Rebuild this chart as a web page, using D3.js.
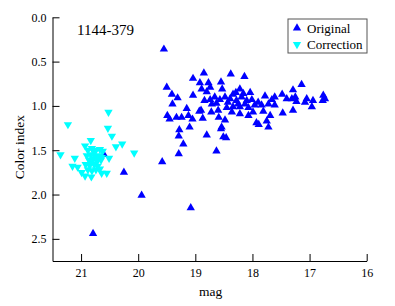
<!DOCTYPE html>
<html>
<head>
<meta charset="utf-8">
<script src="https://cdn.jsdelivr.net/npm/d3@7"></script>
<style>
	body { margin: 0; background: #fff; }
	text { font-family: "Liberation Serif", "DejaVu Serif", serif; }
</style>
</head>
<body>
<svg id="chart" width="395" height="306"></svg>
<script>
// original photometry: [mag, color index]
let originalPts = [
	[19.55, 0.36], [20.60, 1.55], [20.25, 1.75], [19.94, 2.01], [20.79, 2.44],
	[19.58, 1.63], [19.08, 2.15], [18.63, 1.51],
	[19.50, 0.79], [19.41, 0.87], [19.31, 0.91], [19.40, 0.98], [19.49, 1.11],
	[19.45, 1.15], [19.33, 1.13], [19.24, 1.13], [19.28, 1.27], [19.29, 1.34],
	[19.21, 1.43], [19.29, 1.54], [19.15, 1.03], [19.12, 1.11], [19.10, 1.24],
	[19.05, 1.15], [19.04, 0.88], [19.04, 0.69], [18.93, 1.06], [18.87, 1.14],
	[18.85, 0.63], [18.92, 0.74], [18.77, 0.74], [18.74, 0.79], [18.80, 0.84],
	[18.89, 0.81], [18.84, 0.94], [18.74, 0.93], [18.80, 1.33], [18.72, 1.07],
	[18.90, 1.05], [18.63, 0.97], [18.57, 0.93], [18.55, 0.73], [18.53, 0.81],
	[18.60, 1.05], [18.59, 1.13], [18.48, 1.16], [18.48, 0.90], [18.54, 1.24],
	[18.55, 1.26], [18.51, 1.35], [18.46, 1.36], [18.45, 1.02], [18.39, 0.92],
	[18.38, 0.64], [18.34, 0.87], [18.34, 1.01], [18.28, 0.94], [18.22, 0.81],
	[18.22, 1.01], [18.22, 1.09], [18.19, 0.90], [18.16, 0.86], [18.14, 0.67],
	[18.10, 0.94], [18.07, 1.02], [18.07, 1.11], [18.01, 0.93], [17.99, 1.07],
	[17.96, 0.99], [17.93, 1.19], [17.89, 1.21], [17.90, 0.96], [17.84, 0.99],
	[17.81, 1.06], [17.78, 0.89], [17.75, 1.17], [17.72, 0.98], [17.72, 1.24],
	[17.69, 1.11], [17.66, 0.93], [17.61, 0.90], [17.61, 0.99], [17.48, 0.87],
	[17.47, 1.08], [17.40, 0.92], [17.31, 0.92], [17.29, 0.82], [17.29, 1.05],
	[17.23, 0.95], [17.14, 0.76], [17.08, 0.96], [17.05, 0.92], [16.96, 1.01],
	[16.94, 0.94], [16.77, 0.94], [16.76, 0.88], [16.73, 0.92], [17.25, 0.90],
	[18.66, 0.90], [18.43, 0.96], [18.29, 0.85], [18.25, 0.98], [18.13, 0.98],
	[18.36, 1.07], [18.71, 0.98], [18.04, 0.85]
];

// corrected photometry: [mag, color index]
let correctionPts = [
	[21.36, 1.55], [21.23, 1.21], [21.11, 1.59], [21.15, 1.68], [20.93, 1.45],
	[20.83, 1.39], [20.52, 1.07], [20.53, 1.25], [20.46, 1.34], [20.39, 1.46],
	[20.28, 1.43], [20.07, 1.53], [20.51, 1.59], [20.55, 1.76], [20.64, 1.76],
	[20.82, 1.80], [20.93, 1.79], [20.99, 1.75], [21.06, 1.69],
	[20.88, 1.50], [20.81, 1.48], [20.74, 1.50], [20.67, 1.49], [20.62, 1.51],
	[20.90, 1.56], [20.83, 1.55], [20.76, 1.57], [20.69, 1.56], [20.64, 1.58],
	[20.86, 1.61], [20.79, 1.60], [20.72, 1.63], [20.65, 1.61], [20.92, 1.66],
	[20.85, 1.67], [20.77, 1.66], [20.71, 1.68], [20.88, 1.72], [20.81, 1.73],
	[20.74, 1.72], [20.67, 1.71], [20.77, 1.52], [20.71, 1.59], [20.83, 1.64]
];

let xTicks = [21, 20, 19, 18, 17, 16];
let yTicks = [0.0, 0.5, 1.0, 1.5, 2.0, 2.5];
let seriesNames = ["Original", "Correction"];
let seriesColors = ["#0000ff", "#00ffff"];

let svg = d3.select("#chart");
let plot = { left: 52.5, right: 366.7, top: 17.3, bottom: 261 };

let xScale = d3.scaleLinear().domain([21.5, 16]).range([plot.left, plot.right]);
let yScale = d3.scaleLinear().domain([0, 2.75]).range([plot.top, plot.bottom]);

let xAxis = svg.append("g")
	.attr("transform", `translate(0, ${plot.bottom})`)
	.call(d3.axisBottom(xScale).tickValues(xTicks).tickFormat(d3.format("d"))
		.tickSizeInner(-7).tickSizeOuter(0).tickPadding(7));

let yAxis = svg.append("g")
	.attr("transform", `translate(${plot.left}, 0)`)
	.call(d3.axisLeft(yScale).tickValues(yTicks).tickFormat(d3.format(".1f"))
		.tickSizeInner(-7).tickSizeOuter(0).tickPadding(6));

[xAxis, yAxis].forEach((ax) => {
	ax.selectAll("text").attr("font-size", 12).attr("fill", "#000")
		.attr("font-family", "Liberation Serif, serif");
	ax.selectAll("line, path").attr("stroke", "#000").attr("stroke-width", 1);
});

svg.append("text")
	.attr("x", (plot.left + plot.right) / 2 + 1)
	.attr("y", 296)
	.attr("text-anchor", "middle")
	.attr("font-size", 13.5)
	.text("mag");

svg.append("text")
	.attr("transform", `translate(24, ${(plot.top + plot.bottom) / 2 + 8}) rotate(-90)`)
	.attr("text-anchor", "middle")
	.attr("font-size", 13.5)
	.text("Color index");

svg.append("text")
	.attr("x", 77)
	.attr("y", 35)
	.attr("font-size", 15)
	.text("1144-379");

let triUp = d3.symbol().type(d3.symbolTriangle).size(30);

svg.append("g")
	.selectAll("path")
	.data(originalPts)
	.join("path")
	.attr("d", triUp)
	.attr("fill", seriesColors[0])
	.attr("transform", (d) => `translate(${xScale(d[0])}, ${yScale(d[1])})`);

svg.append("g")
	.selectAll("path")
	.data(correctionPts)
	.join("path")
	.attr("d", triUp)
	.attr("fill", seriesColors[1])
	.attr("transform", (d) => `translate(${xScale(d[0])}, ${yScale(d[1])}) rotate(180)`);

// legend
let legend = svg.append("g").attr("transform", "translate(288, 19)");
legend.append("rect")
	.attr("width", 79).attr("height", 34)
	.attr("fill", "#fff").attr("stroke", "#555").attr("stroke-width", 1);

seriesNames.forEach((name, i) => {
	let row = legend.append("g").attr("transform", `translate(0, ${9 + i * 16.5})`);
	row.append("path")
		.attr("d", triUp)
		.attr("fill", seriesColors[i])
		.attr("transform", `translate(9, 0)${i ? " rotate(180)" : ""}`);
	row.append("text")
		.attr("x", 19)
		.attr("y", 4.5)
		.attr("font-size", 13)
		.text(name);
});
</script>
</body>
</html>
